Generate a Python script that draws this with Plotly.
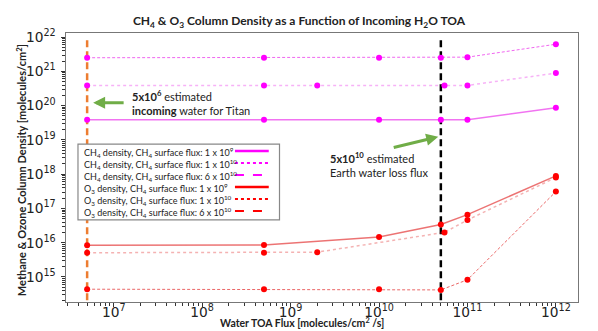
import plotly.graph_objects as go

# water TOA flux values (molecules/cm^2/s) and column densities (molecules/cm^2)
titan_flux = 5e6
earth_flux = 5e10
vline_y = [1e14, 1e22]

ch4_1e9_x = [5e6, 5e8, 1e10, 5e10, 1e11, 1e12]
ch4_1e9_y = [3.9e19, 3.9e19, 3.9e19, 3.9e19, 3.9e19, 8.7e19]

ch4_1e10_x = [5e6, 5e8, 2e9, 5.5e10, 1e11, 1e12]
ch4_1e10_y = [3.9e20, 3.9e20, 3.9e20, 3.9e20, 3.9e20, 8.9e20]

ch4_6e10_x = [5e6, 5e8, 1e10, 5e10, 1e11, 1e12]
ch4_6e10_y = [2.5e21, 2.5e21, 2.5e21, 2.5e21, 2.6e21, 6.2e21]

o3_1e9_x = [5e6, 5e8, 1e10, 5e10, 1e11, 1e12]
o3_1e9_y = [8.5e15, 8.6e15, 1.47e16, 3.4e16, 6.6e16, 8.9e17]

o3_1e10_x = [5e6, 5e8, 2e9, 5.5e10, 1e11, 1e12]
o3_1e10_y = [5.1e15, 5.1e15, 5.3e15, 2.0e16, 4.6e16, 8.0e17]

o3_6e10_x = [5e6, 5e8, 1e10, 5e10, 1e11, 1e12]
o3_6e10_y = [4.4e14, 4.4e14, 4.4e14, 4.2e14, 8.3e14, 3.1e17]

legend_labels = [
    "CH<sub>4</sub> density, CH<sub>4</sub> surface flux: 1 x 10<sup>9</sup>",
    "CH<sub>4</sub> density, CH<sub>4</sub> surface flux: 1 x 10<sup>10</sup>",
    "CH<sub>4</sub> density, CH<sub>4</sub> surface flux: 6 x 10<sup>10</sup>",
    "O<sub>3</sub> density, CH<sub>4</sub> surface flux: 1 x 10<sup>9</sup>",
    "O<sub>3</sub> density, CH<sub>4</sub> surface flux: 1 x 10<sup>10</sup>",
    "O<sub>3</sub> density, CH<sub>4</sub> surface flux: 6 x 10<sup>10</sup>",
]

MAG = "#ff00ff"
RED = "#ff0000"
TXT = "Lato"

fig = go.Figure()

# reference flux lines
fig.add_trace(go.Scatter(x=[titan_flux, titan_flux], y=vline_y, mode="lines",
                         line=dict(color="#ed7d31", width=2.5, dash="7px,4px"),
                         showlegend=False))
fig.add_trace(go.Scatter(x=[earth_flux, earth_flux], y=vline_y, mode="lines",
                         line=dict(color="black", width=2.5, dash="7px,4px"),
                         showlegend=False))

series = [
    (ch4_1e9_x, ch4_1e9_y, MAG, "rgba(230,0,230,0.55)", "solid", 1.5),
    (ch4_1e10_x, ch4_1e10_y, MAG, "rgba(230,0,230,0.3)", "dot", 1.5),
    (ch4_6e10_x, ch4_6e10_y, MAG, "rgba(230,0,230,0.6)", "3px,2px", 1),
    (o3_1e9_x, o3_1e9_y, RED, "rgba(220,0,0,0.55)", "solid", 1.5),
    (o3_1e10_x, o3_1e10_y, RED, "rgba(220,0,0,0.3)", "dot", 1.5),
    (o3_6e10_x, o3_6e10_y, RED, "rgba(220,0,0,0.6)", "3px,2px", 1),
]
for (sx, sy, mc, lc, dash, w), name in zip(series, legend_labels):
    fig.add_trace(go.Scatter(x=sx, y=sy, mode="lines+markers", name=name,
                             line=dict(color=lc, width=w, dash=dash),
                             marker=dict(color=mc, size=6), showlegend=False))

# legend box drawn by hand (text left, line sample right)
shapes = [dict(type="rect", xref="paper", yref="paper", x0=0.0234, x1=0.417,
               y0=0.305, y1=0.587, fillcolor="white",
               line=dict(color="#888", width=1.2), layer="above")]
legend_styles = [(MAG, "solid", 2.5), (MAG, "dot", 2), (MAG, "dash", 2),
                 (RED, "solid", 2.5), (RED, "dot", 2), (RED, "dash", 2)]
annotations = []
for i, (lab, (c, d, w)) in enumerate(zip(legend_labels, legend_styles)):
    yy = (302 - (152 + 12 * i)) / 269
    annotations.append(dict(xref="paper", yref="paper", x=0.031, y=yy, text=lab,
                            showarrow=False, xanchor="left", yanchor="middle",
                            font=dict(family=TXT, size=9, color="#222")))
    shapes.append(dict(type="line", xref="paper", yref="paper", x0=0.330, x1=0.396,
                       y0=yy + 0.004, y1=yy + 0.004, line=dict(color=c, width=w, dash=d),
                       layer="above"))

# green arrows + notes
annotations += [
    dict(xref="paper", yref="paper", x=0.053, y=0.741, ax=32, ay=0, text="",
         showarrow=True, arrowhead=2, arrowsize=0.8, arrowwidth=3, arrowcolor="#70ad47"),
    dict(xref="paper", yref="paper", x=0.125, y=0.742, xanchor="left", yanchor="middle",
         align="left", showarrow=False, font=dict(family=TXT, size=11, color="#222"),
         text="<b>5x10<sup>6</sup></b> estimated<br><b>incoming</b> water for Titan"),
    dict(xref="paper", yref="paper", x=0.727, y=0.614, ax=-46, ay=11, text="",
         showarrow=True, arrowhead=2, arrowsize=0.8, arrowwidth=3, arrowcolor="#70ad47"),
    dict(xref="paper", yref="paper", x=0.512, y=0.51, xanchor="left", yanchor="middle",
         align="left", showarrow=False, font=dict(family=TXT, size=11, color="#222"),
         text="<b>5x10<sup>10</sup></b> estimated<br>Earth water loss flux"),
    dict(xref="paper", yref="paper", x=0.461, y=-0.108, xanchor="center", yanchor="bottom",
         showarrow=False, font=dict(family=TXT, size=10.5, color="#222"),
         text="<b>Water TOA Flux [molecules/cm<sup>2</sup> /s]</b>"),
    dict(xref="paper", yref="paper", x=-0.088, y=0.49, xanchor="center", yanchor="middle",
         textangle=-90, showarrow=False, font=dict(family=TXT, size=11, color="#222"),
         text="<b>Methane & Ozone Column Density [molecules/cm<sup>2</sup>]</b>"),
]

axis_common = dict(type="log", exponentformat="power", showgrid=False, zeroline=False,
                   showline=True, linecolor="#777", linewidth=1.2, mirror=True,
                   ticks="outside", ticklen=4, tickcolor="#333",
                   tickfont=dict(family="DejaVu Sans", size=11, color="#222"),
                   minor=dict(ticks="outside", ticklen=2.5, tickcolor="#333", showgrid=False))

fig.update_layout(
    width=598, height=331,
    margin=dict(l=66, r=20, t=33, b=29, autoexpand=False),
    plot_bgcolor="white", paper_bgcolor="white",
    title=dict(text="<b>CH<sub>4</sub> & O<sub>3</sub> Column Density as a Function of Incoming H<sub>2</sub>O TOA</b>",
               x=0.5, xanchor="center", y=0.937, yanchor="middle",
               font=dict(family=TXT, size=12, color="#222")),
    xaxis=dict(range=[6.46, 12.25], dtick=1, ticklabelstandoff=-6, **axis_common),
    yaxis=dict(range=[14.27, 22.12], dtick=1, ticklabelstandoff=3, **axis_common),
    shapes=shapes, annotations=annotations, showlegend=False,
)

# drop the browser's default body margin so the figure sits at the page corner
fig.write_html("out.html", config={"displayModeBar": False},
               post_script="document.body.style.margin='0';")
